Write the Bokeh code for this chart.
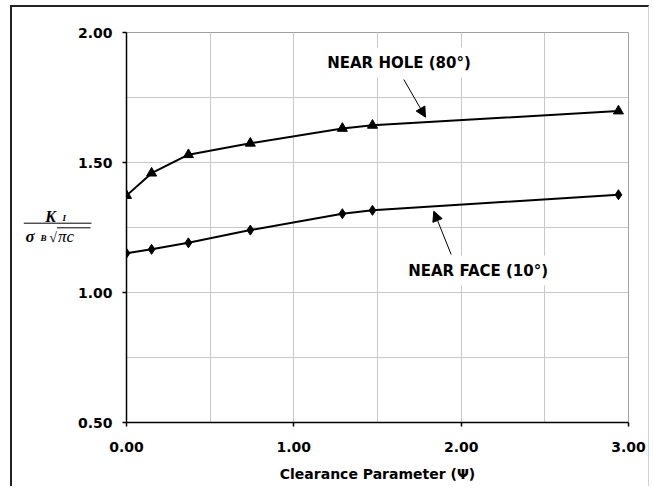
from bokeh.plotting import figure
from bokeh.models import Range1d, FixedTicker, Label, Arrow, NormalHead
from bokeh.core.properties import value
from bokeh.embed import file_html
from bokeh.resources import INLINE

# ---- data ----
psi = [0.00, 0.15, 0.37, 0.74, 1.29, 1.47, 2.94]
k_near_hole = [1.373, 1.459, 1.530, 1.574, 1.631, 1.643, 1.698]
k_near_face = [1.151, 1.166, 1.191, 1.240, 1.303, 1.316, 1.376]

x_tick_values = [0, 1, 2, 3]
x_tick_labels = ["0.00", "1.00", "2.00", "3.00"]
y_tick_values = [0.5, 1.0, 1.5, 2.0]
y_tick_labels = ["0.50", "1.00", "1.50", "2.00"]
x_grid_values = [0.5, 1.0, 1.5, 2.0, 2.5]
y_grid_values = [0.75, 1.0, 1.25, 1.5, 1.75]

x_title = "Clearance Parameter (\u03a8)"
hole_label = "NEAR HOLE (80\u00b0)"
face_label = "NEAR FACE (10\u00b0)"

X0, X1 = 0.0, 3.0
Y0, Y1 = 0.5, 2.0

# page geometry (canvas origin after css margin + border) and frame
CX0, CY0 = 12, 7
W, H = 639, 481
FL, FR, FT, FB = 126, 628, 32, 422


def dx(px):
    return X0 + (px - FL) / (FR - FL) * (X1 - X0)


def dy(py):
    return Y1 - (py - FT) / (FB - FT) * (Y1 - Y0)


p = figure(width=W, height=H, output_backend="svg", toolbar_location=None,
           x_range=Range1d(X0, X1), y_range=Range1d(Y0, Y1),
           min_border_left=FL - CX0, min_border_right=CX0 + W - FR,
           min_border_top=FT - CY0, min_border_bottom=CY0 + H - FB,
           background_fill_color="white", border_fill_color="white")
p.styles = {"margin-left": "10px", "margin-top": "5px",
            "border-left": "2px solid #222222", "border-top": "2px solid #222222",
            "border-right": "1px solid #d0d0d0"}

p.outline_line_color = "#a0a0a0"
p.outline_line_width = 1

# grids
p.xgrid.ticker = FixedTicker(ticks=x_grid_values)
p.ygrid.ticker = FixedTicker(ticks=y_grid_values)
for g in (p.xgrid, p.ygrid):
    g.grid_line_color = "#c8c8c8"
    g.grid_line_width = 1

# axes
p.xaxis.ticker = FixedTicker(ticks=x_tick_values)
p.yaxis.ticker = FixedTicker(ticks=y_tick_values)
p.xaxis.major_label_overrides = {v: s for v, s in zip(x_tick_values, x_tick_labels)}
p.yaxis.major_label_overrides = {v: s for v, s in zip(y_tick_values, y_tick_labels)}
for ax in (p.xaxis, p.yaxis):
    ax.axis_line_color = "black"
    ax.axis_line_width = 1.5
    ax.major_tick_line_color = "black"
    ax.major_tick_line_width = 1.5
    ax.major_tick_in = 0
    ax.major_tick_out = 4
    ax.minor_tick_line_color = None
    ax.major_label_text_font = "DejaVu Sans"
    ax.major_label_text_font_style = "bold"
    ax.major_label_text_font_size = "14px"
    ax.major_label_text_color = "black"
p.xaxis.major_label_standoff = 15
p.yaxis.major_label_standoff = 10
p.xaxis.axis_label = x_title
p.xaxis.axis_label_text_font = "DejaVu Sans"
p.xaxis.axis_label_text_font_style = "bold"
p.xaxis.axis_label_text_font_size = "14px"
p.xaxis.axis_label_text_color = "black"
p.xaxis.axis_label_standoff = 11

# series
p.line(psi, k_near_hole, line_color="black", line_width=2)
p.scatter(psi, k_near_hole, marker="triangle", size=10, fill_color="black", line_color="black")
p.line(psi, k_near_face, line_color="black", line_width=2)
p.scatter(psi, k_near_face, marker="diamond", size=10, fill_color="black", line_color="black")

# annotations: arrows and curve labels
p.add_layout(Arrow(x_start=dx(403.3), y_start=dy(79), x_end=dx(425), y_end=dy(116.7),
                   line_color="black", line_width=1,
                   end=NormalHead(size=10, fill_color="black", line_color="black")))
p.add_layout(Arrow(x_start=dx(450.7), y_start=dy(254), x_end=dx(433.3), y_end=dy(210.7),
                   line_color="black", line_width=1,
                   end=NormalHead(size=10, fill_color="black", line_color="black")))

PAD = 6
for txt, px, py in ((hole_label, 326.7, 62.0), (face_label, 407.7, 270.0)):
    p.add_layout(Label(x=dx(px - PAD), y=dy(py), text=txt, text_align="left", text_baseline="middle",
                       text_font="DejaVu Sans", text_font_style="bold", text_font_size="15px",
                       text_color="black", background_fill_color="white", padding=PAD))

# y-axis title drawn as a fraction K_I / (sigma_B sqrt(pi c)), outside the frame
serif = "Liberation Serif"
frac_parts = [
    ("K", 50.0, 216.0, "16px", "center", "bold italic"),
    ("I", 63.7, 217.5, "9px", "center", "bold italic"),
    ("\u03c3", 29.7, 236.0, "17px", "center", "bold italic"),
    ("B", 43.0, 237.7, "9px", "center", "bold italic"),
    ("\u221a", 52.5, 236.5, "14px", "center", "normal"),
    ("\u03c0c", 57.5, 236.0, "17px", "left", "italic"),
]
for txt, px, py, fs, al, st in frac_parts:
    p.text(x=[dx(px)], y=[dy(py)], text=[txt], text_align=al, text_baseline="alphabetic",
           text_font=value(serif), text_font_style=st, text_font_size=fs,
           text_color="black", level="overlay")
p.segment(x0=[dx(23.3), dx(56.5)], y0=[dy(222.7), dy(227.3)],
          x1=[dx(91), dx(90)], y1=[dy(222.7), dy(227.3)],
          line_color="black", line_width=1, level="overlay")

open("out.html", "w").write(file_html(p, INLINE))
